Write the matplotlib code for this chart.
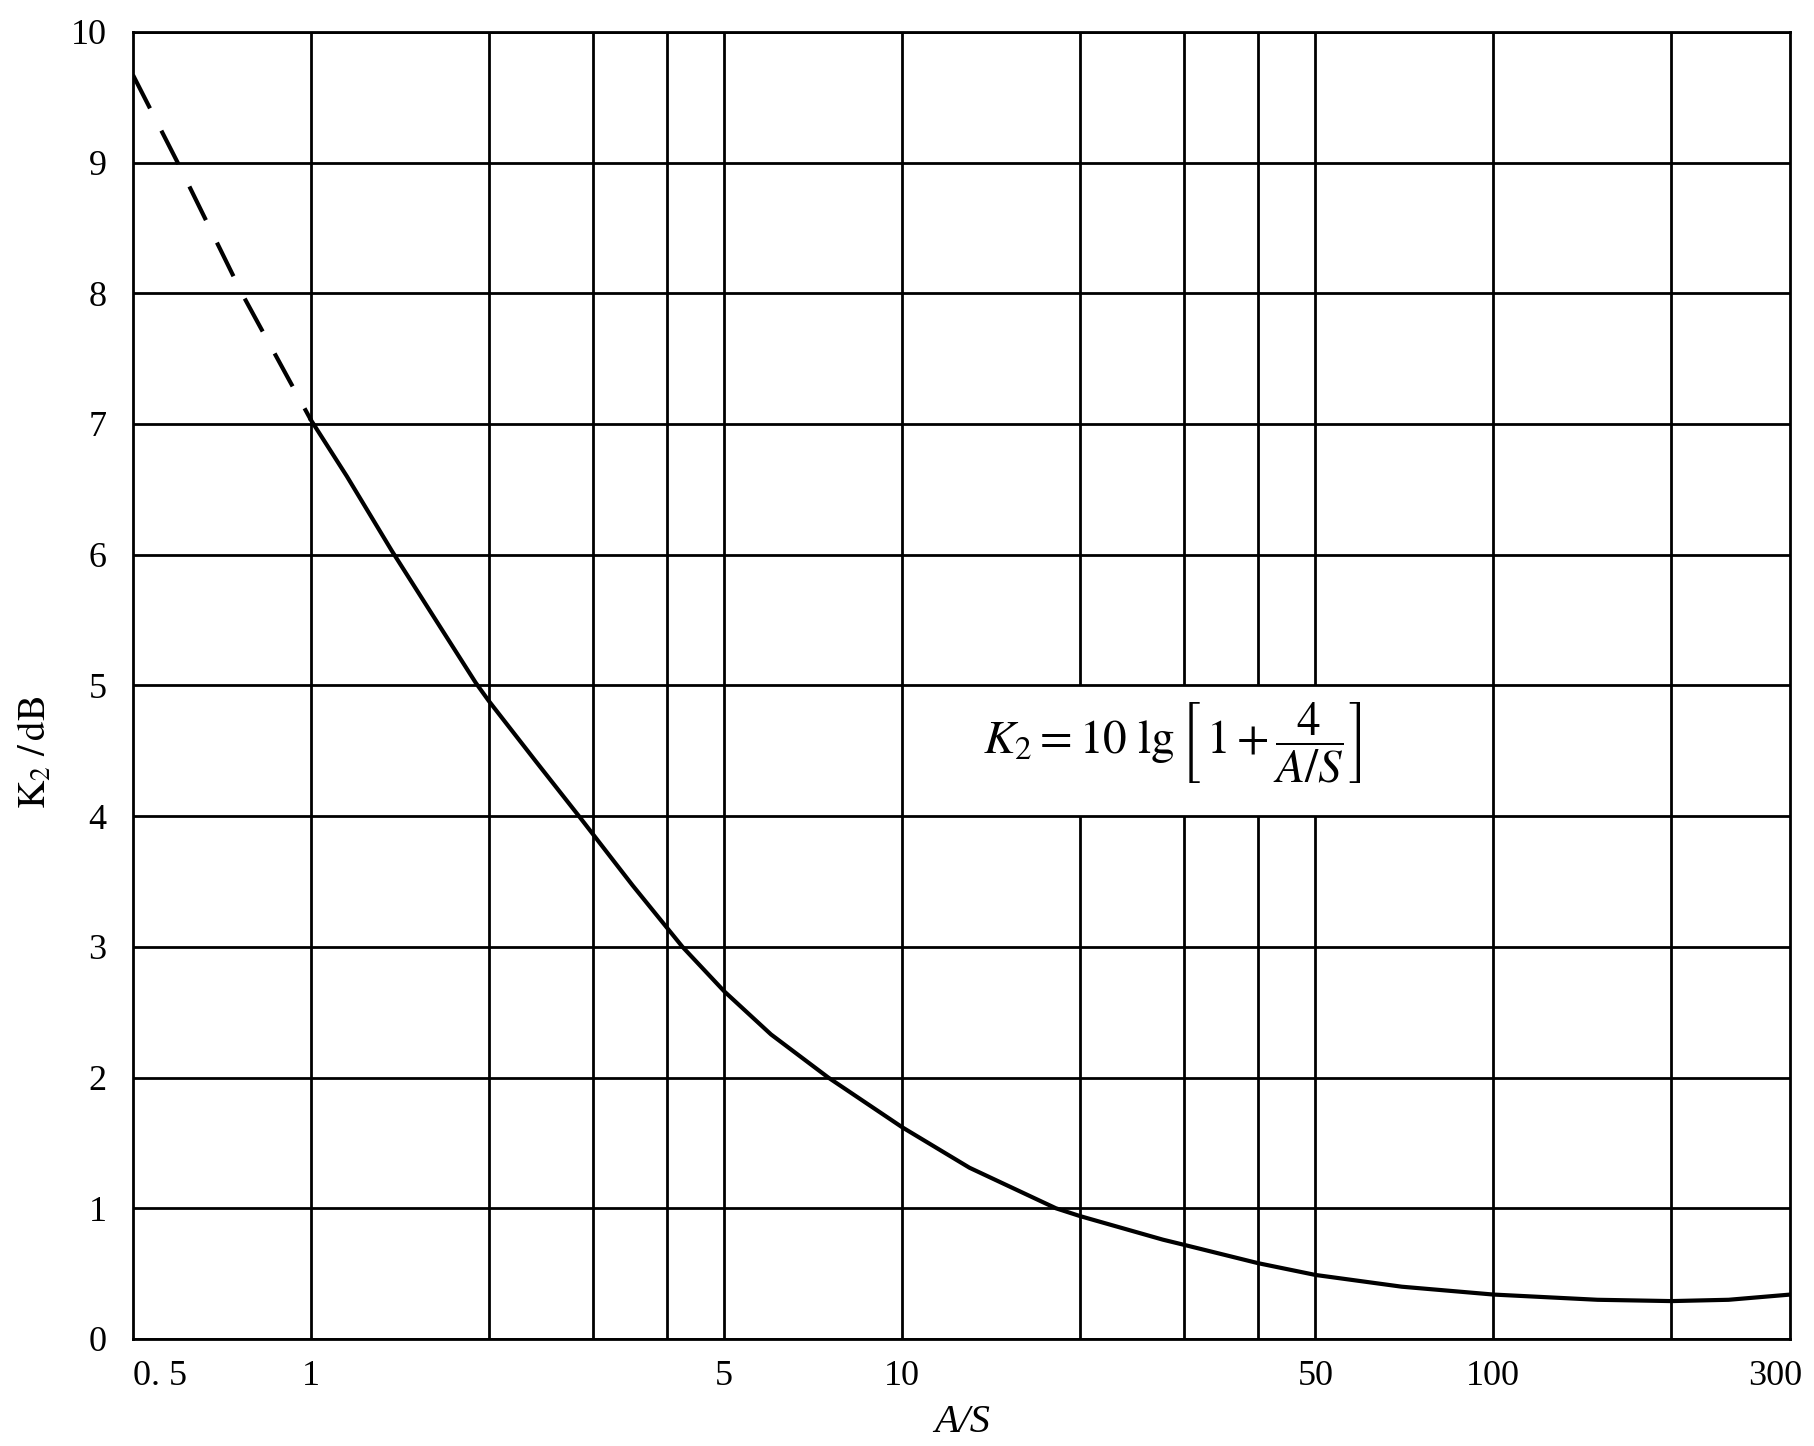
import matplotlib
matplotlib.use("Agg")
import matplotlib.pyplot as plt

plt.rcParams['font.family'] = ['Liberation Serif', 'DejaVu Serif']
plt.rcParams['mathtext.fontset'] = 'stix'

# values
as_dashed = [0.5, 0.595, 0.764, 1.0]
k2_dashed = [9.67, 9.0, 8.0, 7.03]

as_solid = [1, 1.15, 1.37, 1.6, 1.9, 2, 2.4, 2.84, 3.5, 4.25, 5, 6, 7.5, 10,
            13, 18.2, 20, 27.6, 30, 40, 50, 70, 100, 150, 200, 250, 318]
k2_solid = [7.03, 6.6, 6.03, 5.55, 5.02, 4.88, 4.42, 4.0, 3.47, 3.0, 2.66, 2.33,
            2.0, 1.62, 1.31, 1.0, 0.94, 0.76, 0.72, 0.58, 0.49, 0.4, 0.34, 0.3,
            0.29, 0.3, 0.34]

grid_x = [1, 2, 3, 4, 5, 10, 20, 30, 40, 50, 100, 200]
grid_y = list(range(0, 11))
xtick_vals = [0.5, 1, 5, 10, 50, 100, 300]
xtick_labels = ['0. 5', '1', '5', '10', '50', '100', '300']

fig = plt.figure(figsize=(18.14, 14.46), dpi=100)
ax = fig.add_axes([0.0733, 0.074, 0.9137, 0.904])
ax.set_xscale('log')
ax.set_xlim(0.5, 318)
ax.set_ylim(0, 10)

for gx in grid_x:
    ax.axvline(gx, color='black', lw=2, zorder=1)
# blank cell behind the formula (vertical lines only)
ax.fill_between([12.5, 68], 4, 5, color='white', lw=0, zorder=1.5)
for gy in grid_y:
    ax.axhline(gy, color='black', lw=2, zorder=2)

ax.plot(as_dashed, k2_dashed, color='black', lw=3, linestyle=(0, (9, 6)), zorder=3)
ax.plot(as_solid, k2_solid, color='black', lw=3, zorder=3)

ax.text(13.7, 4.56, r'$K_2=10\ \mathrm{lg}\,\left[\,1+\dfrac{4}{A/S}\right]$',
        fontsize=34, va='center', ha='left', zorder=4)

for s in ax.spines.values():
    s.set_linewidth(2)
    s.set_zorder(5)

ax.set_xticks(xtick_vals)
ax.set_xticklabels(xtick_labels)
ax.xaxis.set_minor_locator(matplotlib.ticker.NullLocator())
ax.get_xticklabels()[0].set_ha('left')
ax.set_yticks(grid_y)
ax.tick_params(length=0, labelsize=26, pad=19)
ax.tick_params(axis='x', pad=15)

ax.set_xlabel('A/S', fontsize=29, style='italic')
ax.xaxis.set_label_coords(0.5, -0.05)
ax.set_ylabel(r'$\mathrm{K}_2\ /\,\mathrm{dB}$', fontsize=28)
ax.yaxis.set_label_coords(-0.047, 0.449)

fig.savefig('out.png', dpi=100, facecolor='white')
